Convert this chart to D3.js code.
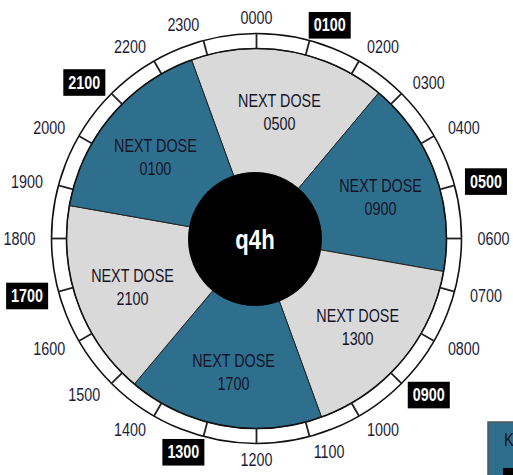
<!DOCTYPE html>
<html>
<head>
<meta charset="utf-8">
<script src="https://cdn.jsdelivr.net/npm/d3@7/dist/d3.min.js"></script>
<style>
  html, body { margin: 0; padding: 0; background: #fff; overflow: hidden; }
  svg { display: block; }
  text { font-family: "Liberation Sans", Arial, sans-serif; }
</style>
</head>
<body>
<svg id="chart" width="513" height="475"></svg>
<script>
// ---- data ----
const hourLabels = ["0000","0100","0200","0300","0400","0500","0600","0700","0800","0900","1000","1100",
                    "1200","1300","1400","1500","1600","1700","1800","1900","2000","2100","2200","2300"];
const doseHours = ["0100","0500","0900","1300","1700","2100"];
const sectorNextDose = ["0500","0900","1300","1700","2100","0100"];
const sectorShares = [1,1,1,1,1,1];
const centerLabel = "q4h";
const sectorTitle = "NEXT DOSE";
const legendTitle = "K";

// ---- layout ----
const W = 513, H = 475;
const cx = 256.5, cy = 238.5;
const rOuter = 205, rInner = 190, rHub = 67;
const rLabel = 221, rDoseLabel = 132, doseLabelShift = 4;
const startDeg = -20;
const narrow = 0.82;
const colors = ["#d9d9d9", "#2f6f8e"];

const svg = d3.select("#chart");
const g = svg.append("g").attr("transform", `translate(${cx},${cy})`);

const hourScale = d3.scaleLinear().domain([0, hourLabels.length]).range([0, 2 * Math.PI]);

// outer ring
g.append("circle").attr("r", (rOuter + rInner) / 2)
  .attr("fill", "none").attr("stroke", "#fff").attr("stroke-width", rOuter - rInner);
g.append("circle").attr("r", rOuter).attr("fill", "none").attr("stroke", "#111").attr("stroke-width", 1.6);

// sectors
const start = startDeg * Math.PI / 180;
const pie = d3.pie().sort(null).startAngle(start).endAngle(start + 2 * Math.PI);
const arcs = pie(sectorShares);
const arc = d3.arc().innerRadius(0).outerRadius(rInner);
g.selectAll("path.sector").data(arcs).join("path")
  .attr("class", "sector")
  .attr("d", arc)
  .attr("fill", (d, i) => colors[i % 2])
  .attr("stroke", "#222").attr("stroke-width", 1);

g.append("circle").attr("r", rInner).attr("fill", "none").attr("stroke", "#111").attr("stroke-width", 1.6);

// hour ticks
g.selectAll("line.tick").data(hourLabels).join("line")
  .attr("class", "tick")
  .attr("x1", (d, i) => rInner * Math.sin(hourScale(i)))
  .attr("y1", (d, i) => -rInner * Math.cos(hourScale(i)))
  .attr("x2", (d, i) => rOuter * Math.sin(hourScale(i)))
  .attr("y2", (d, i) => -rOuter * Math.cos(hourScale(i)))
  .attr("stroke", "#222").attr("stroke-width", 1.8);

// hour labels
const lab = g.selectAll("g.hl").data(hourLabels).join("g").attr("class", "hl")
  .attr("transform", (d, i) => {
    const a = hourScale(i);
    return `translate(${rLabel * Math.sin(a)},${-rLabel * Math.cos(a)})`;
  });
lab.append("text")
  .attr("transform", `scale(${narrow},1)`)
  .attr("text-anchor", (d, i) => {
    const s = Math.sin(hourScale(i));
    return s > 0.01 ? "start" : (s < -0.01 ? "end" : "middle");
  })
  .attr("dy", "0.36em")
  .attr("font-size", 17.5)
  .attr("font-weight", d => doseHours.includes(d) ? "bold" : "normal")
  .attr("fill", d => doseHours.includes(d) ? "#fff" : "#1c1c3a")
  .text(d => d)
  .each(function(d) {
    if (!doseHours.includes(d)) return;
    const bb = this.getBBox();
    d3.select(this.parentNode).insert("rect", "text")
      .attr("x", bb.x * narrow - 5).attr("y", bb.y - 4)
      .attr("width", bb.width * narrow + 10).attr("height", bb.height + 8)
      .attr("fill", "#000");
  });

// sector labels
const sl = g.selectAll("text.dose").data(arcs).join("text")
  .attr("class", "dose")
  .attr("text-anchor", "middle")
  .attr("font-size", 17.5)
  .attr("fill", "#141428")
  .attr("transform", (d, i) => {
    const a = (d.startAngle + d.endAngle) / 2;
    return `translate(${rDoseLabel * Math.sin(a)},${-rDoseLabel * Math.cos(a) + doseLabelShift}) scale(${narrow},1)`;
  });
sl.append("tspan").attr("x", 0).attr("dy", "-0.3em").text(sectorTitle);
sl.append("tspan").attr("x", 0).attr("dy", "1.3em").text((d, i) => sectorNextDose[i]);

// hub
g.append("circle").attr("cx", -1.5).attr("cy", 0.5).attr("r", rHub).attr("fill", "#000");
g.append("text").attr("transform", `translate(-1.5,1) scale(${narrow},1)`).attr("dy", "0.35em")
  .attr("text-anchor", "middle").attr("font-size", 27).attr("font-weight", "bold")
  .attr("fill", "#fff").text(centerLabel);

// legend fragment (cropped at page edge)
const lg = svg.append("g").attr("transform", "translate(488,422)");
lg.append("rect").attr("width", 60).attr("height", 70).attr("fill", colors[1]).attr("stroke", "#555").attr("stroke-width", 1.5);
lg.append("text").attr("transform", `translate(16,24) scale(${narrow},1)`).attr("font-size", 18).attr("fill", "#111").text(legendTitle);
lg.append("rect").attr("x", 15).attr("y", 46).attr("width", 40).attr("height", 12).attr("fill", "#000");
</script>
</body>
</html>
